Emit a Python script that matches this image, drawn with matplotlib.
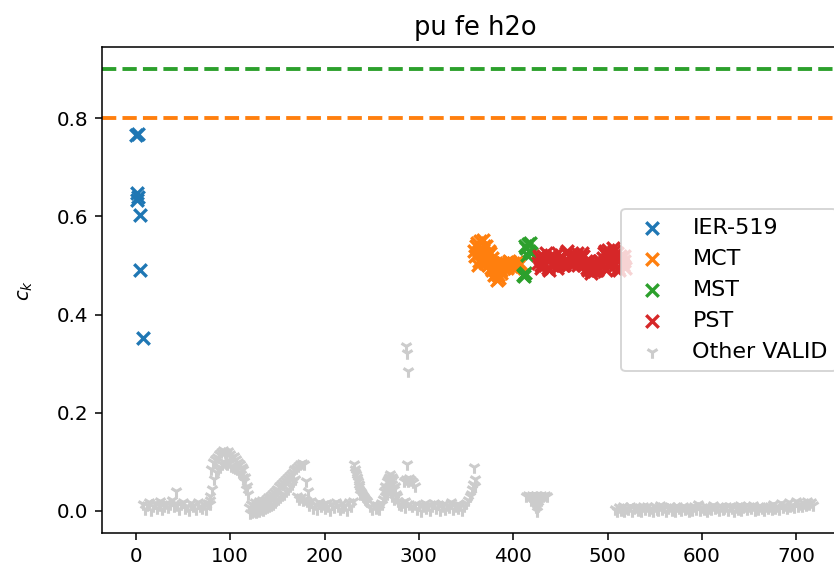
import matplotlib
matplotlib.use("Agg")
import matplotlib.pyplot as plt

# ---- data ----
ier_x = [0, 2, 1, 2, 1, 4, 4, 7]
ier_y = [0.765, 0.768, 0.648, 0.640, 0.633, 0.603, 0.491, 0.352]

mct_x = [358, 360, 362, 364, 365, 366, 367, 368, 369, 370, 371, 372, 373, 374, 375,
         376, 377, 378, 379, 380, 381, 382, 383, 384, 385, 386, 387, 388, 390, 392,
         394, 396, 398, 400, 402, 404, 406,
         361, 363, 366, 369, 372, 375, 378, 381, 384, 387, 389, 391, 393, 395, 397,
         399, 401, 403, 405, 407]
mct_y = [0.53, 0.52, 0.545, 0.51, 0.55, 0.535, 0.515, 0.552, 0.525, 0.505, 0.54, 0.52,
         0.50, 0.53, 0.51, 0.495, 0.515, 0.49, 0.505, 0.48, 0.50, 0.485, 0.47, 0.495,
         0.475, 0.505, 0.485, 0.50, 0.495, 0.505, 0.50, 0.51, 0.498, 0.505, 0.50,
         0.507, 0.502,
         0.54, 0.50, 0.525, 0.54, 0.51, 0.525, 0.505, 0.49, 0.48, 0.49, 0.505, 0.50,
         0.495, 0.502, 0.508, 0.50, 0.495, 0.505, 0.498, 0.505]

mst_x = [410, 411, 412, 414, 415, 416, 417, 418, 419, 413]
mst_y = [0.48, 0.478, 0.485, 0.535, 0.522, 0.543, 0.53, 0.545, 0.525, 0.54]

pst_x = [426, 428, 430, 432, 434, 436, 438, 440, 442, 444, 446, 448, 450, 452, 454,
         456, 458, 460, 462, 464, 466, 468, 470, 472, 474, 476, 478, 480, 482, 484,
         486, 488, 490, 492, 494, 496, 498, 500, 502, 504, 506, 508, 510, 512, 514,
         516, 518,
         427, 429, 431, 433, 435, 437, 439, 441, 443, 445, 447, 449, 451, 453, 455,
         457, 459, 461, 463, 465, 467, 469, 471, 473, 475, 477, 479, 481, 483, 485,
         487, 489, 491, 493, 495, 497, 499, 501, 503, 505, 507, 509, 511, 513, 515,
         517, 519]
pst_y = [0.505, 0.515, 0.495, 0.52, 0.50, 0.512, 0.49, 0.522, 0.503, 0.51, 0.495,
         0.525, 0.505, 0.518, 0.50, 0.525, 0.51, 0.522, 0.505, 0.52, 0.512, 0.525,
         0.508, 0.515, 0.52, 0.505, 0.495, 0.51, 0.49, 0.50, 0.488, 0.505, 0.495,
         0.51, 0.50, 0.525, 0.49, 0.532, 0.505, 0.52, 0.535, 0.50, 0.525, 0.49,
         0.515, 0.50, 0.52,
         0.52, 0.50, 0.51, 0.505, 0.525, 0.495, 0.515, 0.50, 0.52, 0.51,
         0.50, 0.515, 0.52, 0.50, 0.51, 0.53, 0.505, 0.515, 0.50, 0.51,
         0.52, 0.50, 0.515, 0.525, 0.50, 0.51, 0.49, 0.50, 0.485, 0.495,
         0.50, 0.49, 0.51, 0.505, 0.515, 0.53, 0.52, 0.50, 0.525, 0.51,
         0.53, 0.515, 0.495, 0.52, 0.505, 0.51, 0.495]

# "Other VALID": runs of consecutive cases (first case index, index step, values)
other_runs = [
    (8, 2, [0.015, 0.004, 0.012, 0.018, 0.002, 0.010, 0.016, 0.006, 0.013, 0.020,
            0.003, 0.011, 0.017, 0.007, 0.014, 0.022, 0.009, 0.040, 0.012, 0.004,
            0.015, 0.019, 0.006, 0.011, 0.002, 0.016, 0.009, 0.013, 0.004, 0.018,
            0.010, 0.006, 0.014, 0.003, 0.017, 0.022]),
    (78, 2, [0.030, 0.085, 0.100, 0.105, 0.110, 0.115, 0.120, 0.125, 0.120, 0.118,
             0.122, 0.115, 0.110, 0.112, 0.105, 0.100, 0.095, 0.090, 0.085, 0.070,
             0.050]),
    (79, 2, [0.015, 0.045, 0.065, 0.080, 0.085, 0.090, 0.095, 0.100, 0.098, 0.095,
             0.100, 0.092, 0.090, 0.088, 0.085, 0.080, 0.075, 0.070, 0.060, 0.045,
             0.035]),
    (120, 2, [0.008, 0.015, 0.012, 0.018, 0.015, 0.020, 0.018, 0.022, 0.020, 0.025,
              0.028, 0.030, 0.035, 0.038, 0.042, 0.045, 0.050, 0.055, 0.058, 0.062,
              0.068, 0.072, 0.075, 0.080, 0.085, 0.088, 0.092, 0.095, 0.098, 0.095,
              0.060, 0.040]),
    (121, 2, [-0.004, -0.002, 0.000, -0.002, 0.002, 0.000, 0.004, 0.002, 0.006, 0.008,
              0.010, 0.012, 0.015, 0.018, 0.022, 0.025, 0.028, 0.032, 0.035, 0.040,
              0.045, 0.050, 0.055, 0.060, 0.065, 0.030, 0.025, 0.028, 0.022, 0.025,
              0.020, 0.018]),
    (184, 2, [0.012, 0.020, 0.006, 0.015, 0.003, 0.018, 0.010, 0.014, 0.005, 0.017,
              0.009, 0.002, 0.015, 0.008, 0.019, 0.011, 0.004, 0.016, 0.007, 0.013,
              0.002, 0.018, 0.010, 0.020]),
    (231, 1, [0.095, 0.085, 0.075, 0.070, 0.060, 0.055, 0.050, 0.040, 0.038, 0.035,
              0.030, 0.028, 0.025, 0.022, 0.020]),
    (232, 2, [0.080, 0.065, 0.045, 0.035]),
    (248, 2, [0.010, 0.003, 0.015, 0.006, 0.012, 0.004, 0.016]),
    (261, 1, [0.015, 0.025, 0.040, 0.030, 0.045, 0.060, 0.065, 0.050, 0.075, 0.060,
              0.070, 0.055, 0.065, 0.045, 0.050, 0.035, 0.030, 0.020, 0.015]),
    (264, 2, [0.050, 0.035, 0.070, 0.040, 0.030, 0.025]),
    (281, 2, [0.012, 0.018, 0.008]),
    (286, 1, [0.335, 0.322, 0.285]),
    (287, 1, [0.095]),
    (284, 2, [0.060, 0.065, 0.060, 0.068, 0.062, 0.058, 0.050]),
    (285, 4, [0.020, 0.015, 0.010]),
    (296, 2, [0.015, 0.004, 0.012, 0.000, 0.010, 0.017, 0.005, 0.013, 0.002, 0.011,
              0.016, 0.006, 0.014, 0.001, 0.009, 0.015, 0.004, 0.012, 0.007, 0.018,
              0.003, 0.011, 0.015, 0.006, 0.013, 0.002, 0.010, 0.016, 0.022, 0.030]),
    (355, 1, [0.035, 0.045, 0.055, 0.090, 0.065, 0.050]),
    (414, 2, [0.030, 0.032, 0.030, 0.033, 0.030, 0.032, 0.030, 0.031, 0.033, 0.030,
              0.032, 0.030]),
    (419, 2, [0.022, 0.020, 0.015, 0.020, 0.018, 0.022]),
    (424, 1, [0.008, 0.000, 0.010]),
    (508, 2, [0.004, 0.000, 0.008, 0.002, 0.010, -0.001, 0.006, 0.003, 0.009, 0.000,
              0.005, 0.008, 0.001, 0.007, -0.001, 0.009, 0.004, 0.011, 0.002, 0.006,
              0.000, 0.010, 0.004, 0.001, 0.013, 0.003, 0.007, -0.001, 0.006, 0.010,
              0.002, 0.007, 0.000, 0.009, 0.005, 0.001, 0.010, 0.004, 0.006, -0.001,
              0.008, 0.002, 0.011, 0.004, 0.015, 0.001, 0.007, 0.003, 0.009, 0.000,
              0.006, 0.003, 0.012, 0.005, 0.008, 0.001, 0.010, 0.004, 0.006, 0.009,
              0.002, 0.011, 0.005, 0.000, 0.008, 0.004, 0.013, 0.002, 0.007, 0.010,
              0.003, 0.009, 0.005, 0.012, 0.001, 0.008, 0.004, 0.010, 0.006, 0.002,
              0.011, 0.005, 0.009, 0.003, 0.014, 0.006, 0.010, 0.004, 0.016, 0.008,
              0.012, 0.006, 0.018, 0.009, 0.013, 0.007, 0.020, 0.010, 0.015, 0.011,
              0.017, 0.012, 0.020, 0.014, 0.018, 0.013]),
]

other_x = []
other_y = []
for start, step, vals in other_runs:
    for i, v in enumerate(vals):
        other_x.append(start + step * i)
        other_y.append(v)

ref_lines = [0.8, 0.9]
ref_colors = ["tab:orange", "tab:green"]

title = "pu fe h2o"
ylabel = "$c_k$"

# ---- figure ----
S = 1.39  # scale factor of the original rendering
fig = plt.figure(figsize=(8.34, 5.70), dpi=100)
ax = fig.add_axes([102 / 834, 37 / 570, (848 - 102) / 834, (533 - 47) / 570])

ms = (6.5 * S) ** 2
lwx = 2.4
ax.scatter(ier_x, ier_y, marker="x", s=ms, linewidths=lwx, color="tab:blue", label="IER-519")
ax.scatter(mct_x, mct_y, marker="x", s=ms, linewidths=lwx, color="tab:orange", label="MCT")
ax.scatter(mst_x, mst_y, marker="x", s=ms, linewidths=lwx, color="tab:green", label="MST")
ax.scatter(pst_x, pst_y, marker="x", s=ms, linewidths=lwx, color="tab:red", label="PST")
ax.scatter(other_x, other_y, marker="1", s=ms, linewidths=2.2, color="#cccccc",
           label="Other VALID")

for v, c in zip(ref_lines, ref_colors):
    ax.axhline(v, color=c, linestyle="--", linewidth=2.0 * S)

ax.set_xlim(-36, 755)
ax.set_ylim(-0.045, 0.945)
ax.set_xticks([0, 100, 200, 300, 400, 500, 600, 700])
ax.set_yticks([0.0, 0.2, 0.4, 0.6, 0.8])

for sp in ax.spines.values():
    sp.set_linewidth(0.8 * S)
ax.spines["right"].set_visible(False)  # lies beyond the cropped right edge
ax.tick_params(labelsize=14.3, length=3.5 * S, width=0.8 * S, pad=3.5 * S)

ax.set_title(title, fontsize=18.5, pad=6 * S)
ax.set_ylabel(ylabel, fontsize=14, labelpad=16)

leg = ax.legend(loc="center right", fontsize=16, framealpha=0.8)
leg.get_frame().set_linewidth(1.0 * S)

fig.savefig("out.png", dpi=100)
